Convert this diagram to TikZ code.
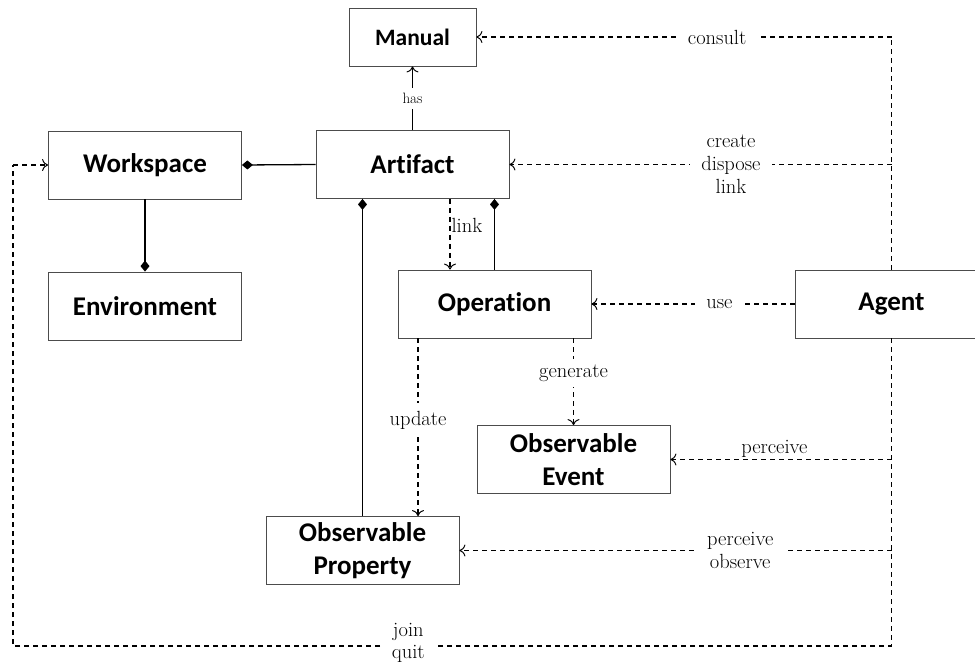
\documentclass[tikz,border=0pt]{standalone}
\usepackage{fontspec}
\newfontfamily\boxfont[Ligatures=NoCommon]{Carlito}
\usetikzlibrary{arrows.meta}

\begin{document}
\begin{tikzpicture}[x=1pt,y=-1pt,
  cls/.style={draw=black!70, line width=0.8pt, minimum width=193pt, minimum height=68pt,
    inner sep=0pt, align=center,
    font=\boxfont\bfseries\fontsize{27}{33}\selectfont},
  solidc/.style={line width=1.3pt},
  depc/.style={line width=1.2pt, dash pattern=on 5pt off 4pt},
  opentip/.style={-{To[length=6pt,width=12pt,line width=1pt]}},
  comp/.style={{Diamond[length=11pt,width=9pt]}-},
  lbl/.style={font=\fontsize{20.5}{23}\selectfont, fill=white, inner xsep=11pt, inner ysep=1pt, align=center},
  lblfree/.style={font=\fontsize{20.5}{23}\selectfont, inner sep=3pt, align=center},
]
\useasboundingbox (0,0) rectangle (975,664);

% classes
\node[cls, minimum width=127pt, minimum height=58pt, font=\boxfont\bfseries\fontsize{23.5}{28}\selectfont] (man) at (412.5,37) {Manual};
\node[cls] (art) at (412.5,164.5) {Artifact};
\node[cls] (ws) at (145,165) {Workspace};
\node[cls] (env) at (145,306) {Environment};
\node[cls] (op) at (494.5,304) {Operation};
\node[cls] (ag) at (891.5,304) {Agent};
\node[cls] (ev) at (573.5,459.5) {Observable\\Event};
\node[cls] (prop) at (362.5,550.5) {Observable\\Property};

% junction points on the agent's trunks
\coordinate (jman) at (ag.north |- man.east);
\coordinate (jart) at (ag.north |- art.east);
\coordinate (jev) at (ag.south |- ev.east);
\coordinate (jprop) at (ag.south |- prop.east);
\coordinate (jbot) at (891.5,646);
\coordinate (jleft) at (13,646);
\coordinate (jws) at (jleft |- ws.west);

% compositions and associations
\draw[solidc, comp] (ws.east) -- (art.west);
\draw[solidc, comp] (env.north) -- (ws.south);
\draw[solidc, opentip] (art.north) -- node[fill=white, inner xsep=2pt, inner ysep=5pt, font=\fontsize{15}{17}\selectfont] {has} (man.south);
\draw[solidc, comp] (op.north |- art.south) -- (op.north);
\draw[solidc, comp] (prop.north |- art.south) -- (prop.north);

% dependencies among artifact, operation and observables
\draw[depc, opentip] ([xshift=37.5pt]art.south) -- node[lblfree, right, pos=0.38, inner sep=1pt] {link} ([xshift=37.5pt]art.south |- op.north);
\draw[depc, opentip] ([xshift=-76.5pt]op.south) -- node[lbl, pos=0.46, inner ysep=8pt] {update} ([xshift=-76.5pt]op.south |- prop.north);
\draw[depc, opentip] (ev.north |- op.south) -- node[lbl, pos=0.4, inner ysep=6pt] {generate} (ev.north);

% agent dependencies
\draw[depc, opentip] (ag.west) -- node[lbl, pos=0.37] {use} (op.east);
\draw[depc] (ag.north) -- (jman);
\draw[depc, opentip] (jman) -- node[lbl, pos=0.42] {consult} (man.east);
\draw[depc, opentip] (jart) -- node[lbl, pos=0.42] {create\\dispose\\link} (art.east);
\draw[depc] (ag.south) -- (jbot) -- node[lbl, pos=0.55, yshift=3pt, font=\fontsize{20.5}{22}\selectfont, inner ysep=0pt] {join\\quit} (jleft) -- (jws);
\draw[depc, opentip] (jws) -- (ws.west);
\draw[depc, opentip] (jev) -- node[lblfree, above, pos=0.53, yshift=-2pt] {perceive} (ev.east);
\draw[depc, opentip] (jprop) -- node[lbl, pos=0.35] {perceive\\observe} (prop.east);
\end{tikzpicture}
\end{document}
